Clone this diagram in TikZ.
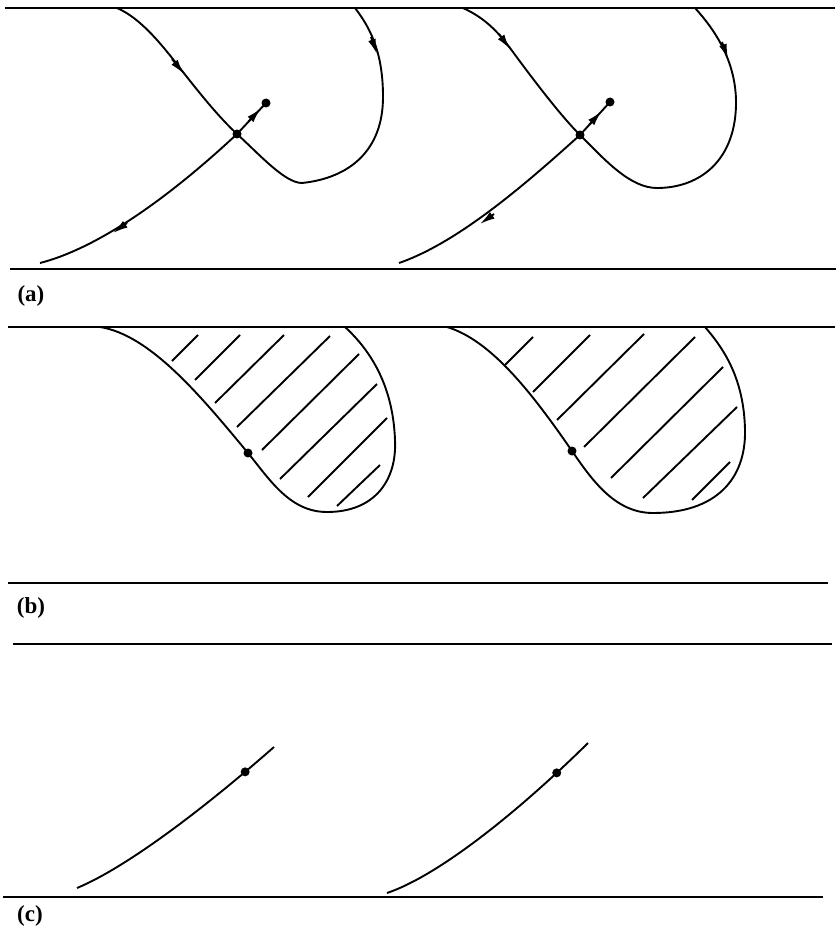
\documentclass[tikz,border=0pt]{standalone}
\usepackage{fontspec}
\setmainfont{Liberation Serif}
\usetikzlibrary{arrows.meta}
\begin{document}
\begin{tikzpicture}[x={(1pt,0)},y={(0,-1pt)},
  border/.style={line width=2pt},
  curve/.style={line width=1.9pt},
  pt/.style={circle,fill=black,inner sep=0pt,minimum size=9pt},
  tip/.style={-{Latex[length=15pt,width=8pt]},line width=1.9pt},
  hatch/.style={line width=1.9pt},
  lbl/.style={font=\fontsize{23}{25}\selectfont\bfseries,inner sep=0pt}]
\useasboundingbox (0,0) rectangle (839,936);
% ---------- panel (a) ----------
\draw[border] (5,8) -- (835,8);
\draw[border] (10,269) -- (836,269);
\node[lbl] (la) at (31,296) {(a)};
% left copy
\coordinate (s1) at (237,134);
\coordinate (d1) at (266,103);
\draw[curve] (117,8) .. controls (140,18) and (160,42) .. (183,72)
   .. controls (205,100) and (220,118) .. (s1)
   .. controls (260,155) and (285,183) .. (302,183)
   .. controls (350,178) and (383,150) .. (383,97)
   .. controls (383,55) and (372,30) .. (355,8);
\draw[curve] (s1) .. controls (190,178) and (110,245) .. (40,263);
\draw[curve] (s1) -- (d1);
\draw[tip] (172,59) -- (184,74);
\draw[tip] (371,37) -- (377,54);
\draw[tip] (248.5,121.6) -- (260.8,108.4);
\draw[tip] (127,223) -- (113,233);
\node[pt] (S1) at (s1) {};
\node[pt] (D1) at (d1) {};
% right copy
\coordinate (s2) at (580,135);
\coordinate (d2) at (610,102);
\draw[curve] (463,8) .. controls (485,18) and (498,32) .. (510,48)
   .. controls (532,78) and (560,115) .. (s2)
   .. controls (605,160) and (630,188) .. (657,188)
   .. controls (700,188) and (737,160) .. (736,100)
   .. controls (735,60) and (715,30) .. (695,8);
\draw[curve] (s2) .. controls (530,180) and (460,242) .. (399,263);
\draw[curve] (s2) -- (d2);
\draw[tip] (499,34) -- (510,49);
\draw[tip] (722,42) -- (728,59);
\draw[tip] (589.3,124.7) -- (601.4,111.3);
\draw[tip] (494,214) -- (480,224);
\node[pt] (S2) at (s2) {};
\node[pt] (D2) at (d2) {};
% ---------- panel (b) ----------
\draw[border] (8,327) -- (835,327);
\draw[border] (8,583) -- (828,583);
\node[lbl] (lb) at (31,608) {(b)};
\coordinate (b1) at (248,453);
\draw[curve] (100,327) .. controls (150,335) and (200,395) .. (b1)
   .. controls (270,480) and (290,512) .. (327,512)
   .. controls (375,512) and (397,480) .. (395,440)
   .. controls (393,385) and (370,350) .. (345,327);
\node[pt] (B1) at (b1) {};
\draw[hatch] (172,361) -- (198,335);
\draw[hatch] (195,380) -- (240,335);
\draw[hatch] (215,403) -- (284,335);
\draw[hatch] (237,427) -- (330,336);
\draw[hatch] (262,450) -- (359,354);
\draw[hatch] (280,479) -- (377,384);
\draw[hatch] (308,497) -- (387,418);
\draw[hatch] (337,506) -- (380,465);
\coordinate (b2) at (572,451);
\draw[curve] (447,327) .. controls (490,340) and (530,390) .. (b2)
   .. controls (592,480) and (615,513) .. (653,513)
   .. controls (715,513) and (746,480) .. (745,430)
   .. controls (744,380) and (725,350) .. (705,327);
\node[pt] (B2) at (b2) {};
\draw[hatch] (505,365) -- (533,337);
\draw[hatch] (533,392) -- (590,335);
\draw[hatch] (557,420) -- (644,334);
\draw[hatch] (584,447) -- (695,337);
\draw[hatch] (611,478) -- (723,367);
\draw[hatch] (643,498) -- (737,407);
\draw[hatch] (692,500) -- (730,462);
% ---------- panel (c) ----------
\draw[border] (13,644) -- (832,644);
\draw[border] (3,897) -- (823,897);
\node[lbl] (lc) at (30,916) {(c)};
\draw[curve] (77,888) .. controls (125,868) and (200,812) .. node[pt,pos=0.87] (C1) {} (274,747);
\draw[curve] (387,893) .. controls (440,875) and (520,810) .. node[pt,pos=0.85] (C2) {} (588,743);
\end{tikzpicture}
\end{document}
